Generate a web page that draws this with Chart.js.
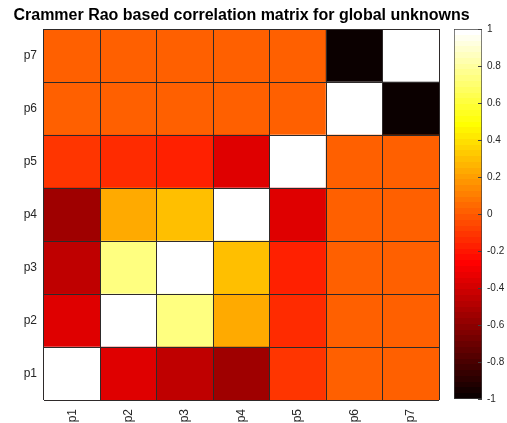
<!DOCTYPE html>
<html>
<head>
<meta charset="utf-8">
<title>Crammer Rao based correlation matrix</title>
<script src="https://cdn.jsdelivr.net/npm/chart.js@4.4.1/dist/chart.umd.min.js"></script>
<style>
  html, body { margin: 0; padding: 0; background: #ffffff; }
  body { position: relative; width: 507px; height: 423px; overflow: hidden; }
  #heatWrap { position: absolute; left: 0; top: 0; width: 483px; height: 423px; }
  #barWrap { position: absolute; left: 440px; top: 0; width: 67px; height: 423px; }
</style>
</head>
<body>
<div id="heatWrap"><canvas id="heat"></canvas></div>
<div id="barWrap"><canvas id="cbar"></canvas></div>
<script>
// Parameter names (columns left to right, rows bottom to top)
const params = ['p1', 'p2', 'p3', 'p4', 'p5', 'p6', 'p7'];

// Correlation rows, one array per parameter (row p1 is the bottom row)
const rowP1 = [ 1.00, -0.35, -0.45, -0.55, -0.10,  0.02,  0.02];
const rowP2 = [-0.35,  1.00,  0.73,  0.23, -0.14,  0.02,  0.02];
const rowP3 = [-0.45,  0.73,  1.00,  0.30, -0.18,  0.02,  0.02];
const rowP4 = [-0.55,  0.23,  0.30,  1.00, -0.36,  0.02,  0.02];
const rowP5 = [-0.10, -0.14, -0.18, -0.36,  1.00,  0.02,  0.02];
const rowP6 = [ 0.02,  0.02,  0.02,  0.02,  0.02,  1.00, -1.00];
const rowP7 = [ 0.02,  0.02,  0.02,  0.02,  0.02, -1.00,  1.00];
const corrRows = [rowP1, rowP2, rowP3, rowP4, rowP5, rowP6, rowP7];

// Colour limits and colour bar tick values
const colorMin = -1;
const colorMax = 1;
const colorbarTicks = [-1, -0.8, -0.6, -0.4, -0.2, 0, 0.2, 0.4, 0.6, 0.8, 1];

const FONT = '"Liberation Sans", Arial, Helvetica, sans-serif';
const TEXT = '#262626';
const GRID = '#2e2a2a';

// 64-level "hot" colour map: black -> red -> yellow -> white
const LEVELS = 64;
function hotLevel(k) {
  const n1 = 24;
  const r = k < n1 ? (k + 1) / n1 : 1;
  const g = k < n1 ? 0 : (k < 2 * n1 ? (k - n1 + 1) / n1 : 1);
  const b = k < 2 * n1 ? 0 : (k - 2 * n1 + 1) / (LEVELS - 2 * n1);
  return 'rgb(' + Math.round(r * 255) + ',' + Math.round(g * 255) + ',' + Math.round(b * 255) + ')';
}
function hotColor(v) {
  const t = (v - colorMin) / (colorMax - colorMin);
  const k = Math.max(0, Math.min(LEVELS - 1, Math.floor(t * LEVELS)));
  return hotLevel(k);
}

// One floating-bar dataset per row; each bar spans one cell vertically
const heatDatasets = corrRows.map((row, r) => ({
  label: params[r],
  data: row.map(() => [r + 0.5, r + 1.5]),
  backgroundColor: row.map(hotColor),
  borderWidth: 0,
  barPercentage: 1,
  categoryPercentage: 1,
  yAxisID: 'y'
}));

new Chart(document.getElementById('heat'), {
  type: 'bar',
  data: { labels: params, datasets: heatDatasets },
  options: {
    responsive: true,
    maintainAspectRatio: false,
    animation: false,
    events: [],
    layout: { padding: 0 },
    plugins: {
      legend: { display: false },
      tooltip: { enabled: false },
      title: {
        display: true,
        text: 'Crammer Rao based correlation matrix for global unknowns',
        color: '#000000',
        font: { family: FONT, size: 16, weight: 'bold' },
        padding: { top: 6, bottom: 3.8 }
      }
    },
    scales: {
      x: {
        stacked: true,
        offset: true,
        grid: { display: true, offset: true, color: GRID, lineWidth: 1, drawTicks: false, z: 1 },
        border: { display: false },
        ticks: {
          color: TEXT,
          font: { family: FONT, size: 12 },
          minRotation: 90,
          maxRotation: 90,
          autoSkip: false,
          padding: 9
        },
        afterFit(scale) { scale.height = 23; }
      },
      // cell boundaries (grid lines between rows)
      y: {
        type: 'linear',
        position: 'left',
        weight: 0,
        min: 0.5,
        max: params.length + 0.5,
        grid: { display: true, color: GRID, lineWidth: 1, drawTicks: false, z: 1 },
        border: { display: false },
        ticks: { display: false },
        afterBuildTicks(scale) {
          scale.ticks = params.concat(['']).map((_, i) => ({ value: i + 0.5 }));
        },
        afterFit(scale) { scale.width = 0; }
      },
      // row labels at cell centres
      yl: {
        type: 'linear',
        position: 'left',
        weight: 1,
        min: 0.5,
        max: params.length + 0.5,
        grid: { display: false, drawTicks: false },
        border: { display: false },
        ticks: {
          color: TEXT,
          font: { family: FONT, size: 12 },
          padding: 7,
          callback: (v) => params[Math.round(v) - 1]
        },
        afterBuildTicks(scale) {
          scale.ticks = params.map((_, i) => ({ value: i + 1 }));
        },
        afterFit(scale) { scale.width = 44; }
      },
      // empty right-hand margin that keeps the title centred over the cells
      yr: {
        type: 'linear',
        position: 'right',
        min: 0,
        max: 1,
        grid: { display: false, drawTicks: false },
        border: { display: false },
        ticks: { display: false },
        afterFit(scale) { scale.width = 44; }
      }
    }
  }
});

// Colour bar: a single floating bar filled with the banded colour map
const colorbarTicksPlugin = {
  id: 'colorbarTicks',
  afterDatasetsDraw(chart) {
    const { ctx, chartArea, scales } = chart;
    const ys = scales.y;
    ctx.save();
    ctx.strokeStyle = '#404040';
    ctx.lineWidth = 1;
    ctx.beginPath();
    ys.ticks.forEach(t => {
      const py = Math.round(ys.getPixelForValue(t.value)) + 0.5;
      ctx.moveTo(chartArea.right - 4, py);
      ctx.lineTo(chartArea.right, py);
    });
    ctx.stroke();
    ctx.restore();
  }
};

new Chart(document.getElementById('cbar'), {
  type: 'bar',
  data: {
    labels: ['scale'],
    datasets: [{
      data: [[colorMin, colorMax]],
      backgroundColor(c) {
        const chart = c.chart;
        if (!chart.chartArea) return 'rgba(0,0,0,0)';
        const ys = chart.scales.y;
        const y0 = ys.getPixelForValue(colorMin);
        const y1 = ys.getPixelForValue(colorMax);
        const grad = chart.ctx.createLinearGradient(0, y0, 0, y1);
        for (let k = 0; k < LEVELS; k++) {
          const col = hotLevel(k);
          grad.addColorStop(k / LEVELS, col);
          grad.addColorStop(Math.min(1, (k + 1) / LEVELS - 1e-6), col);
        }
        return grad;
      },
      borderColor: '#404040',
      borderWidth: 1,
      borderSkipped: false,
      barPercentage: 1,
      categoryPercentage: 1
    }]
  },
  options: {
    responsive: true,
    maintainAspectRatio: false,
    animation: false,
    events: [],
    layout: { padding: { left: 14, right: 0, top: 29, bottom: 24 } },
    plugins: { legend: { display: false }, tooltip: { enabled: false }, title: { display: false } },
    scales: {
      x: { display: false },
      y: {
        position: 'right',
        min: colorMin,
        max: colorMax,
        grid: { display: false, drawTicks: false },
        border: { display: false },
        ticks: {
          color: TEXT,
          font: { family: FONT, size: 10 },
          padding: 5,
          callback: (v) => String(Math.round(v * 10) / 10)
        },
        afterBuildTicks(scale) {
          scale.ticks = colorbarTicks.map(v => ({ value: v }));
        },
        afterFit(scale) { scale.width = 25; }
      }
    }
  },
  plugins: [colorbarTicksPlugin]
});
</script>
</body>
</html>
